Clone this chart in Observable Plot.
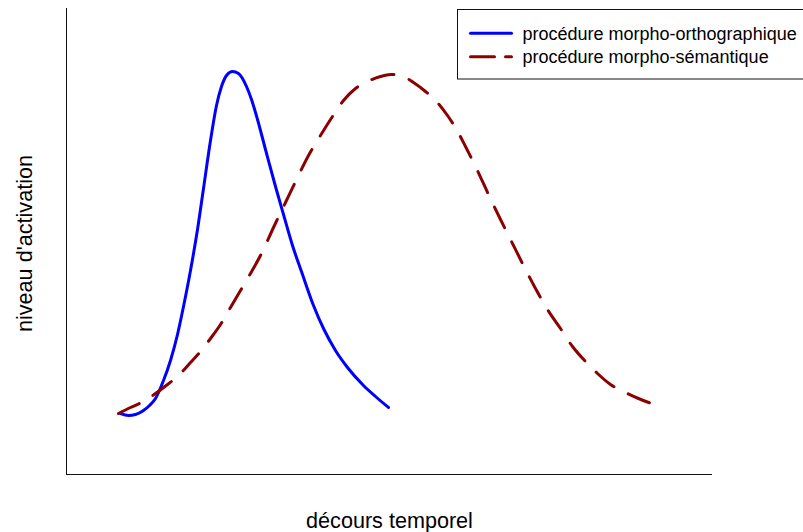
<!DOCTYPE html>
<html>
<head>
<meta charset="utf-8">
<script src="https://cdn.jsdelivr.net/npm/d3@7"></script>
<script src="https://cdn.jsdelivr.net/npm/@observablehq/plot@0.6"></script>
<style>
  html, body { margin: 0; padding: 0; background: #fff; overflow: hidden; }
  #chart svg { overflow: hidden !important; display: block; }
</style>
</head>
<body>
<div id="chart"></div>
<script>
// time (arbitrary units) and activation level (arbitrary units)
const orthoTime = [54, 62, 69, 77, 83, 89, 97, 104, 111, 117, 124, 131, 137, 144, 150, 155, 160, 166, 172, 180, 185, 191, 199, 209, 217, 226, 236, 247, 257, 269, 281, 297, 309, 322];
const orthoLevel = [61, 59, 60, 64, 69, 76, 94, 114, 140, 168, 204, 245, 286, 334, 369, 388, 399, 403, 401, 388, 375, 355, 325, 288, 260, 229, 200, 169, 146, 124, 107, 89, 78, 67];

const semTime = [52, 64, 77, 89, 101, 112, 124, 134, 144, 154, 164, 174, 184, 196, 207, 219, 231, 242, 254, 266, 277, 289, 301, 314, 324, 334, 347, 359, 370, 381, 390, 399, 410, 422, 434, 446, 457, 469, 481, 494, 506, 519, 531, 544, 559, 572, 585];
const semLevel = [61, 67, 73, 81, 90, 99, 112, 123, 136, 150, 167, 184, 201, 223, 247, 272, 297, 319, 339, 358, 374, 386, 393, 398, 400, 399, 392, 383, 373, 359, 345, 328, 306, 280, 255, 231, 209, 186, 165, 146, 128, 113, 101, 90, 82, 76, 71];

const seriesNames = ["procédure morpho-orthographique", "procédure morpho-sémantique"];
const seriesColors = ["#0000ff", "#8b0000"];
const xLabel = "décours temporel";
const yLabel = "niveau d'activation";

const ortho = orthoTime.map((t, i) => ({t, a: orthoLevel[i]}));
const sem = semTime.map((t, i) => ({t, a: semLevel[i]}));

const font = "'Liberation Sans', Arial, Helvetica, sans-serif";

const chart = Plot.plot({
  width: 803,
  height: 532,
  marginLeft: 66,
  marginRight: 91,
  marginTop: 8,
  marginBottom: 58,
  style: {fontFamily: font, background: "#fff"},
  x: {domain: [0, 646], axis: null},
  y: {domain: [0, 466], axis: null},
  marks: [
    Plot.ruleX([0], {stroke: "#111", strokeWidth: 1}),
    Plot.ruleY([0], {stroke: "#111", strokeWidth: 1}),
    Plot.line(ortho, {x: "t", y: "a", stroke: seriesColors[0], strokeWidth: 3, curve: "monotone-x"}),
    Plot.line(sem, {x: "t", y: "a", stroke: seriesColors[1], strokeWidth: 3, curve: "monotone-x", strokeDasharray: "23,16", strokeLinecap: "round"}),
    Plot.text([xLabel], {frameAnchor: "bottom", lineAnchor: "bottom", textAnchor: "middle", dy: 53, fontSize: 21.6, fill: "#000"}),
    Plot.text([yLabel], {frameAnchor: "left", lineAnchor: "bottom", textAnchor: "middle", rotate: -90, dx: -34.5, dy: 2, fontSize: 21.6, fill: "#000"})
  ]
});

document.getElementById("chart").appendChild(chart);

// legend (top right, box extends past the right edge)
const svg = d3.select(chart);
const lg = svg.append("g").attr("font-family", font).attr("text-anchor", "start");
lg.append("rect")
  .attr("x", 457.5).attr("y", 9.5)
  .attr("width", 400).attr("height", 69.5)
  .attr("fill", "#fff").attr("stroke", "#111").attr("stroke-width", 1);
const rows = [33.3, 56.7];
const dashes = [null, "24,11"];
seriesNames.forEach((name, i) => {
  const l = lg.append("line")
    .attr("x1", 470.5).attr("x2", 511.5)
    .attr("y1", rows[i]).attr("y2", rows[i])
    .attr("stroke", seriesColors[i]).attr("stroke-width", 3)
    .attr("stroke-linecap", "round");
  if (dashes[i]) l.attr("stroke-dasharray", dashes[i]);
  lg.append("text")
    .attr("x", 522.5).attr("y", rows[i] + 6.7)
    .attr("text-anchor", "start")
    .attr("font-size", 18).attr("fill", "#000")
    .text(name);
});
</script>
</body>
</html>
